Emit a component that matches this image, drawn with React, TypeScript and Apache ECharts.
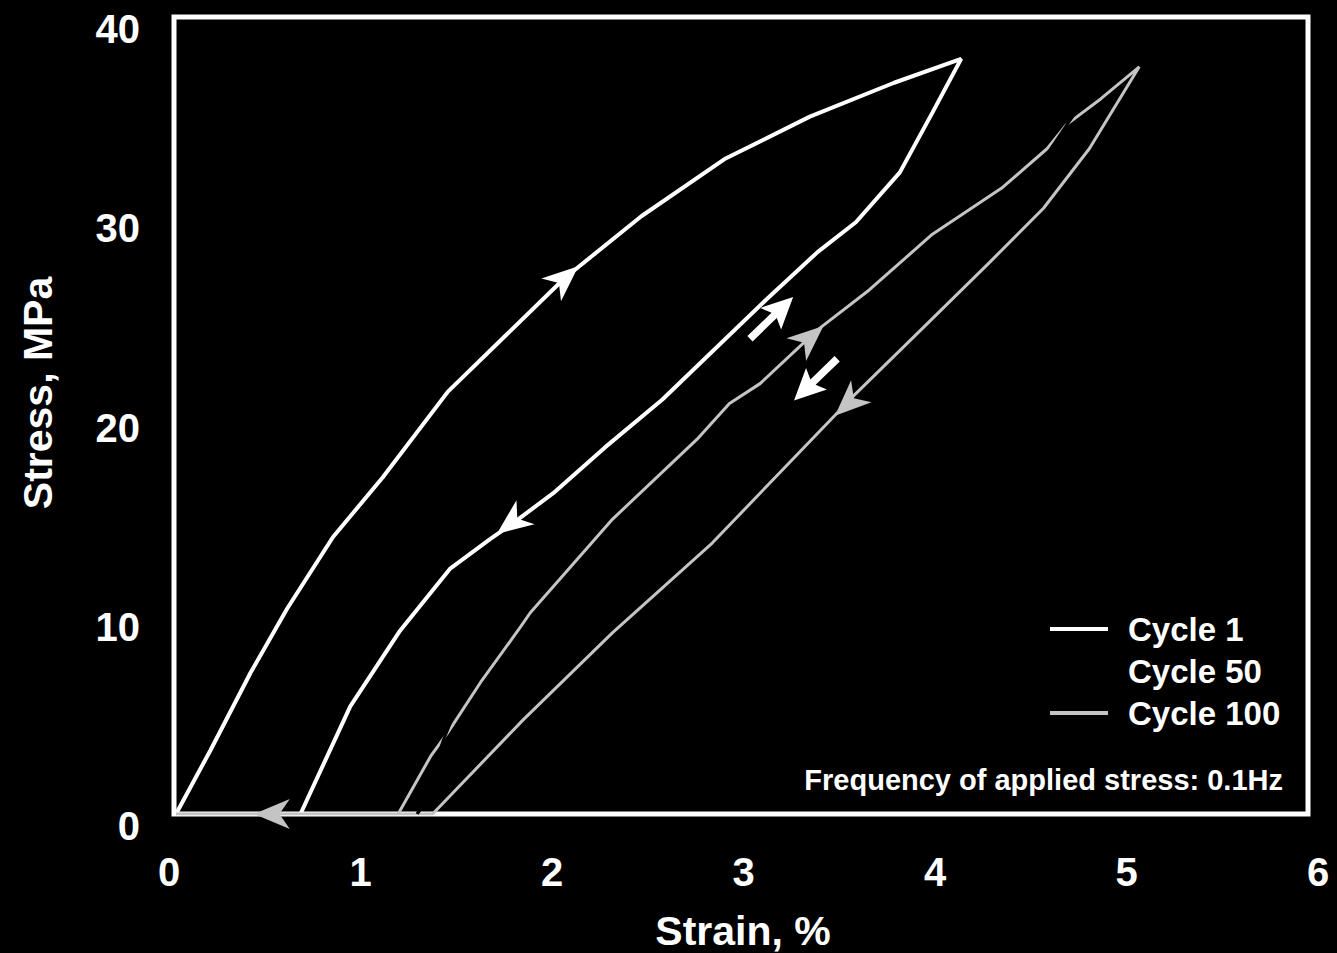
import React, { useEffect, useRef } from "react";
import * as echarts from "echarts";

// ---- Data (strain %, stress MPa) ----
const strainRange = [0, 6];
const stressRange = [0, 40];
const strainStep = 1;
const stressStep = 10;

const cycle1 = [
  [0, 0], [0.18, 3.2], [0.39, 7.1], [0.58, 10.3], [0.82, 13.9], [1.08, 16.9],
  [1.42, 21.2], [1.72, 24.0], [2.03, 26.9], [2.43, 30.0], [2.87, 32.9],
  [3.31, 35.0], [3.75, 36.7], [4.1, 37.9],
  [3.95, 35.2], [3.78, 32.2], [3.55, 29.7], [3.35, 28.2], [3.08, 25.8],
  [2.54, 20.8], [2.24, 18.4], [1.97, 16.1], [1.76, 14.6], [1.64, 13.8],
  [1.43, 12.3], [1.17, 9.2], [0.91, 5.4], [0.65, 0], [0, 0],
];

const cycle50 = [
  [1.26, 0], [1.4, 3.8], [1.58, 8.0], [2.1, 14.0], [2.66, 19.5], [3.24, 24.5],
  [3.84, 29.3], [4.4, 33.5], [4.9, 38.0],
  [4.66, 34.7], [4.4, 31.0], [3.85, 25.5], [3.3, 21.0], [2.6, 14.5],
  [2.05, 9.5], [1.62, 5.0], [1.26, 0],
];

const cycle100 = [
  [1.16, 0], [1.33, 2.9], [1.42, 4.1], [1.59, 6.6], [1.8, 9.4], [1.85, 10.1],
  [2.28, 14.8], [2.72, 18.8], [2.89, 20.6], [3.05, 21.6], [3.35, 24.3],
  [3.62, 26.3], [3.95, 29.1], [4.31, 31.4], [4.55, 33.4], [4.65, 34.6],
  [4.83, 35.9], [5.03, 37.5],
  [4.77, 33.4], [4.53, 30.4], [4.25, 27.7], [3.89, 24.3], [3.55, 21.1],
  [3.42, 19.8], [2.8, 13.6], [2.28, 9.1], [1.81, 4.7], [1.34, 0], [0, 0],
];

// direction arrows: [strain, stress, direction angle in degrees]
const cycle1Arrows = [
  [2.03, 26.9, 41],
  [1.75, 14.6, 217],
];
const cycle50Arrows = [
  [3.11, 24.9, 44],
  [3.34, 21.8, 224],
];
const cycle100Arrows = [
  [3.31, 23.9, 41],
  [3.51, 20.6, 223],
  [0.5, 0, 180],
];

const seriesNames = ["Cycle 1", "Cycle 50", "Cycle 100"];
const freqNote = "Frequency of applied stress: 0.1Hz";
const xTitle = "Strain, %";
const yTitle = "Stress, MPa";

const FONT = '"Liberation Sans", Arial, sans-serif';
const shadow = {
  textShadowColor: "#7a7a7a",
  textShadowOffsetX: 2,
  textShadowOffsetY: 2,
  textShadowBlur: 0,
};

const BARB = "path://M10,0 L20,28 L10,20 L0,28 Z";
const SHAFT = "path://M12,0 L24,26 L15,22 L15,50 L9,50 L9,22 L0,26 Z";

function arrowSeries(data: number[][], color: string, symbol: string, size: number[]) {
  return {
    type: "scatter",
    z: 10,
    silent: true,
    symbol,
    symbolSize: size,
    itemStyle: { color, opacity: 1 },
    data: data.map((d) => ({
      value: [d[0], d[1]],
      symbolRotate: d[2] - 90,
    })),
  };
}

export default function App() {
  const ref = useRef<HTMLDivElement>(null);

  useEffect(() => {
    if (!ref.current) return;
    const chart = echarts.init(ref.current, undefined, { renderer: "svg" });
    const option = {
      animation: false,
      backgroundColor: "#000",
      grid: { left: 176, top: 17, width: 1149, height: 797, containLabel: false },
      xAxis: {
        type: "value",
        min: strainRange[0],
        max: strainRange[1],
        interval: strainStep,
        axisLine: { show: false },
        axisTick: { show: false },
        splitLine: { show: false },
        axisLabel: {
          color: "#fff",
          fontFamily: FONT,
          fontWeight: "bold",
          fontSize: 40,
          margin: 38,
          padding: [0, 14, 0, 0],
          ...shadow,
        },
      },
      yAxis: {
        type: "value",
        min: stressRange[0],
        max: stressRange[1],
        interval: stressStep,
        axisLine: { show: false },
        axisTick: { show: false },
        splitLine: { show: false },
        axisLabel: {
          color: "#fff",
          fontFamily: FONT,
          fontWeight: "bold",
          fontSize: 40,
          margin: 36,
          verticalAlign: "top",
          lineHeight: 24,
          ...shadow,
        },
      },
      legend: {
        data: seriesNames.map((n) => ({ name: n, icon: "rect" })),
        orient: "vertical",
        left: 1050,
        top: 612,
        itemWidth: 58,
        itemHeight: 4,
        itemGap: 8,
        padding: 0,
        selectedMode: false,
        textStyle: {
          color: "#fff",
          fontFamily: FONT,
          fontWeight: "bold",
          fontSize: 33,
          lineHeight: 34,
          padding: [0, 0, 0, 15],
          ...shadow,
        },
      },
      graphic: [
        {
          type: "rect",
          z: 1,
          shape: { x: 174, y: 17, width: 1134, height: 797 },
          style: { fill: "none", stroke: "#fff", lineWidth: 5 },
        },
        {
          type: "text",
          x: 743,
          y: 931,
          style: {
            text: xTitle,
            fill: "#fff",
            font: `bold 41px ${FONT}`,
            align: "center",
            verticalAlign: "middle",
            ...shadow,
          },
        },
        {
          type: "text",
          x: 38,
          y: 393,
          rotation: Math.PI / 2,
          style: {
            text: yTitle,
            fill: "#fff",
            font: `bold 41px ${FONT}`,
            align: "center",
            verticalAlign: "middle",
            ...shadow,
          },
        },
        {
          type: "text",
          x: 1283,
          y: 780,
          style: {
            text: freqNote,
            fill: "#fff",
            font: `bold 29px ${FONT}`,
            align: "right",
            verticalAlign: "middle",
            ...shadow,
          },
        },
      ],
      series: [
        {
          name: seriesNames[0],
          type: "line",
          z: 3,
          data: cycle1,
          showSymbol: false,
          symbol: "none",
          color: "#ffffff",
          lineStyle: { color: "#ffffff", width: 4 },
        },
        {
          name: seriesNames[2],
          type: "line",
          z: 4,
          data: cycle100,
          showSymbol: false,
          symbol: "none",
          color: "#c4c4c4",
          lineStyle: { color: "#c4c4c4", width: 3 },
        },
        {
          name: seriesNames[1],
          type: "line",
          z: 5,
          data: cycle50,
          showSymbol: false,
          symbol: "none",
          color: "#000000",
          lineStyle: { color: "#000000", width: 3 },
        },
        arrowSeries(cycle1Arrows, "#ffffff", BARB, [30, 36]),
        arrowSeries(cycle50Arrows, "#ffffff", SHAFT, [30, 60]),
        arrowSeries(cycle100Arrows, "#c4c4c4", BARB, [30, 36]),
      ],
    };
    chart.setOption(option as any);
    return () => chart.dispose();
  }, []);

  return (
    <div
      ref={ref}
      style={{ position: "fixed", left: 0, top: 0, width: 1337, height: 953 }}
    />
  );
}
